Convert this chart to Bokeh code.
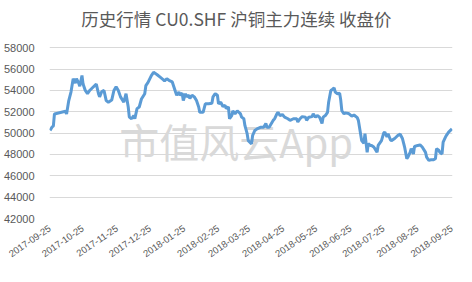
import pandas as pd
from bokeh.plotting import figure
from bokeh.models import Range1d, FixedTicker, DatetimeTickFormatter, NumeralTickFormatter, ColumnDataSource
from bokeh.core.properties import value
from bokeh.embed import file_html
from bokeh.resources import INLINE

title_text = "历史行情 CU0.SHF 沪铜主力连续 收盘价"
watermark_text = "市值风云App"

dates = [
    "2017-09-25", "2017-09-27", "2017-09-28", "2017-09-29", "2017-10-09", "2017-10-10", "2017-10-12", "2017-10-14",
    "2017-10-16", "2017-10-18", "2017-10-19", "2017-10-21", "2017-10-22", "2017-10-24", "2017-10-25", "2017-10-27",
    "2017-10-29", "2017-10-31", "2017-11-03", "2017-11-06", "2017-11-08", "2017-11-09", "2017-11-11", "2017-11-13",
    "2017-11-15", "2017-11-17", "2017-11-20", "2017-11-22", "2017-11-24", "2017-11-26", "2017-11-28", "2017-12-01",
    "2017-12-03", "2017-12-05", "2017-12-06", "2017-12-08", "2017-12-10", "2017-12-11", "2017-12-13", "2017-12-15",
    "2017-12-17", "2017-12-20", "2017-12-21", "2017-12-23", "2017-12-26", "2017-12-28", "2017-12-31", "2018-01-03",
    "2018-01-06", "2018-01-07", "2018-01-09", "2018-01-11", "2018-01-14", "2018-01-17", "2018-01-18", "2018-01-20",
    "2018-01-21", "2018-01-23", "2018-01-24", "2018-01-26", "2018-01-27", "2018-01-29", "2018-01-30", "2018-02-01",
    "2018-02-03", "2018-02-05", "2018-02-07", "2018-02-08", "2018-02-11", "2018-02-13", "2018-02-16", "2018-02-19",
    "2018-02-20", "2018-02-22", "2018-02-24", "2018-02-25", "2018-02-27", "2018-03-01", "2018-03-03", "2018-03-04",
    "2018-03-06", "2018-03-07", "2018-03-09", "2018-03-10", "2018-03-12", "2018-03-14", "2018-03-17", "2018-03-18",
    "2018-03-20", "2018-03-21", "2018-03-23", "2018-03-24", "2018-03-27", "2018-03-28", "2018-03-30", "2018-04-01",
    "2018-04-04", "2018-04-07", "2018-04-09", "2018-04-10", "2018-04-12", "2018-04-14", "2018-04-16", "2018-04-17",
    "2018-04-19", "2018-04-20", "2018-04-22", "2018-04-24", "2018-04-26", "2018-04-29", "2018-05-01", "2018-05-04",
    "2018-05-07", "2018-05-08", "2018-05-10", "2018-05-12", "2018-05-15", "2018-05-16", "2018-05-18", "2018-05-21",
    "2018-05-22", "2018-05-24", "2018-05-26", "2018-05-28", "2018-05-30", "2018-05-31", "2018-06-02", "2018-06-04",
    "2018-06-05", "2018-06-07", "2018-06-08", "2018-06-10", "2018-06-11", "2018-06-13", "2018-06-15", "2018-06-16",
    "2018-06-17", "2018-06-19", "2018-06-20", "2018-06-23", "2018-06-26", "2018-06-28", "2018-07-01", "2018-07-02",
    "2018-07-04", "2018-07-05", "2018-07-07", "2018-07-08", "2018-07-10", "2018-07-11", "2018-07-13", "2018-07-14",
    "2018-07-16", "2018-07-17", "2018-07-19", "2018-07-20", "2018-07-23", "2018-07-25", "2018-07-26", "2018-07-28",
    "2018-07-29", "2018-07-31", "2018-08-01", "2018-08-04", "2018-08-07", "2018-08-09", "2018-08-11", "2018-08-13",
    "2018-08-15", "2018-08-16", "2018-08-18", "2018-08-19", "2018-08-21", "2018-08-22", "2018-08-25", "2018-08-27",
    "2018-08-29", "2018-09-01", "2018-09-02", "2018-09-04", "2018-09-06", "2018-09-08", "2018-09-10", "2018-09-11",
    "2018-09-13", "2018-09-14", "2018-09-16", "2018-09-17", "2018-09-19", "2018-09-20", "2018-09-22", "2018-09-25",
]

close = [
    50250, 50600, 50650, 51800, 52050, 51800, 53050, 53850,
    55100, 54700, 55100, 54700, 54400, 55400, 54600, 54000,
    53700, 54000, 54300, 54600, 53700, 53400, 53900, 54000,
    53050, 52900, 53100, 54000, 54350, 54000, 53400, 52900,
    53700, 52450, 51500, 51350, 51650, 51350, 52300, 52450,
    53200, 53700, 54450, 54750, 55400, 55700, 55500, 55250,
    55000, 54900, 55100, 54950, 54800, 53850, 53550, 53850,
    53550, 53750, 53050, 53700, 53400, 53550, 53250, 53550,
    53400, 53050, 52450, 51950, 51950, 52750, 52750, 52800,
    53400, 53700, 53550, 52750, 52900, 52500, 52600, 52300,
    52450, 51350, 51650, 52100, 51800, 52100, 51800, 51500,
    51350, 50700, 49950, 49300, 49000, 49800, 50250, 50400,
    50550, 50550, 50900, 50550, 50550, 50900, 51250, 51350,
    51800, 51950, 51650, 51750, 51500, 51350, 51200, 51350,
    51350, 51050, 51350, 51550, 51500, 51200, 51500, 51550,
    51800, 51500, 51650, 51450, 50900, 51500, 51650, 51950,
    52900, 54000, 54050, 54250, 53850, 53700, 53750, 53100,
    52100, 51800, 51900, 51850, 51600, 51700, 51450, 51200,
    49950, 49300, 49050, 49950, 48200, 49000, 48850, 48850,
    48700, 48550, 48200, 48850, 49300, 50000, 50100, 49650,
    49950, 49400, 49300, 49500, 49800, 49900, 49500, 48700,
    47600, 47750, 48200, 48550, 48050, 48750, 48850, 48900,
    48700, 48200, 47750, 47450, 47500, 47500, 47600, 48550,
    48400, 48200, 48050, 49150, 49600, 49800, 50100, 50400,
]

tick_dates = [
    "2017-09-25", "2017-10-25", "2017-11-25", "2017-12-25", "2018-01-25", "2018-02-25", "2018-03-25",
    "2018-04-25", "2018-05-25", "2018-06-25", "2018-07-25", "2018-08-25", "2018-09-25",
]
y_ticks = [42000, 44000, 46000, 48000, 50000, 52000, 54000, 56000, 58000]


def ms(s):
    return pd.Timestamp(s).value / 1e6


src = ColumnDataSource(data=dict(x=pd.to_datetime(dates), y=close))

# y range extends above 58000 so the title sits inside the drawing area
p = figure(
    width=472, height=282, output_backend="svg", toolbar_location=None,
    x_axis_type="datetime",
    x_range=Range1d(ms("2017-09-24 12:00"), ms("2018-09-25 12:00")),
    y_range=Range1d(42000, 62433),
    min_border_left=49, min_border_right=20, min_border_top=0, min_border_bottom=64,
)
p.outline_line_color = None
p.background_fill_color = "white"
p.border_fill_color = "white"

# title
p.text(x=[ms("2018-03-13 07:00")], y=[60746], text=[title_text],
       text_font=value("Noto Sans CJK SC"), text_font_size="17.5px",
       text_color="#595959", text_align="center", text_baseline="middle")

# watermark
p.text(x=[ms("2018-03-13")], y=[49300], text=[watermark_text],
       text_font=value("Noto Sans CJK SC"), text_font_size="40px",
       text_color="#d9d9d9", text_align="center", text_baseline="middle")

p.line("x", "y", source=src, line_color="#5b9bd5", line_width=3)

p.xgrid.grid_line_color = None
p.ygrid.grid_line_color = "#d9d9d9"
p.ygrid.grid_line_width = 1

p.yaxis.ticker = FixedTicker(ticks=y_ticks)
p.yaxis.formatter = NumeralTickFormatter(format="0")
p.yaxis.axis_line_color = None
p.yaxis.major_tick_line_color = None
p.yaxis.minor_tick_line_color = None
p.yaxis.major_label_standoff = 9
p.yaxis.major_label_text_font = "Liberation Sans"
p.yaxis.major_label_text_font_size = "11px"
p.yaxis.major_label_text_color = "#595959"

p.xaxis.ticker = FixedTicker(ticks=[ms(d) for d in tick_dates])
fmt = "%Y-%m-%d"
p.xaxis.formatter = DatetimeTickFormatter(
    milliseconds=fmt, seconds=fmt, minsec=fmt, minutes=fmt, hourmin=fmt,
    hours=fmt, days=fmt, months=fmt, years=fmt)
p.xaxis.axis_line_color = None
p.xaxis.major_tick_line_color = None
p.xaxis.minor_tick_line_color = None
p.xaxis.major_label_orientation = 0.6
p.xaxis.major_label_standoff = 3
p.xaxis.major_label_text_font = "Liberation Sans"
p.xaxis.major_label_text_font_size = "9.5px"
p.xaxis.major_label_text_color = "#595959"

open("out.html", "w").write(file_html(p, INLINE))
